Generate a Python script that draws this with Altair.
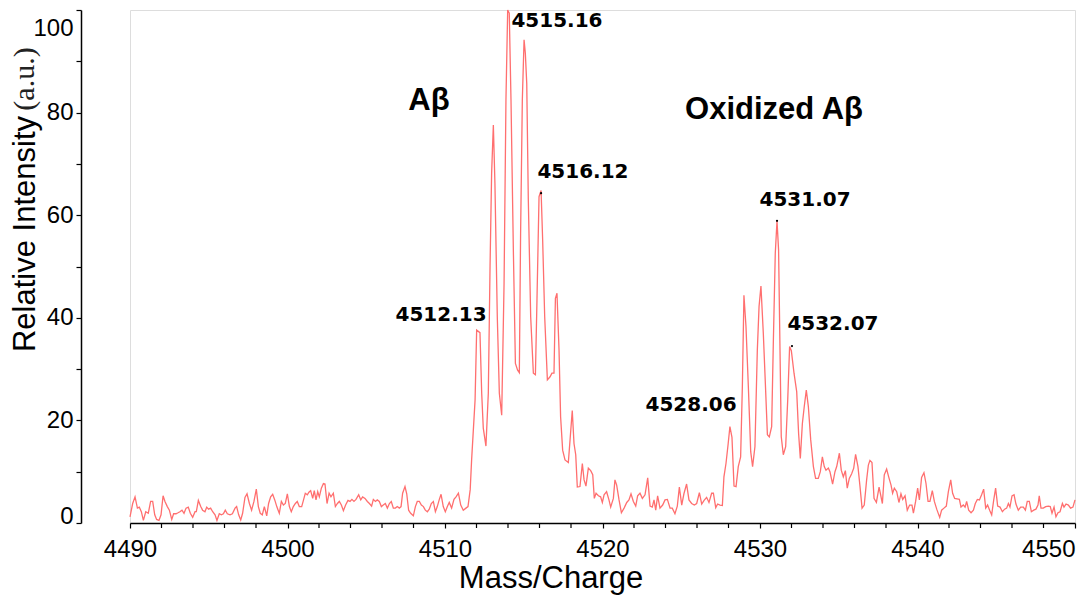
import altair as alt
import pandas as pd

# ---- spectrum (Mass/Charge, Relative Intensity) ----
mass_baseline = [4490.00,4490.17,4490.32,4490.47,4490.59,4490.72,4490.85,4491.00,4491.16,4491.31,4491.44,4491.57,4491.69,4491.84,4491.97,4492.10,4492.22,4492.37,4492.50,4492.65,4492.77,4492.92,4493.05,4493.17,4493.30,4493.43,4493.56,4493.70,4493.83,4493.98,4494.13,4494.21,4494.34,4494.49,4494.61,4494.76,4494.87,4494.99,4495.12,4495.25,4495.40,4495.52,4495.67,4495.80,4495.93,4496.05,4496.18,4496.35,4496.50,4496.67,4496.77,4496.90,4497.03,4497.15,4497.30,4497.43,4497.58,4497.72,4497.87,4498.02,4498.15,4498.27,4498.40,4498.53,4498.68,4498.80,4498.93,4499.06,4499.19,4499.33,4499.48,4499.61,4499.74,4499.86,4499.99,4500.12,4500.24,4500.37,4500.50,4500.62,4500.75,4500.90,4501.01,4501.13,4501.26,4501.36,4501.47,4501.60,4501.70,4501.81,4501.92,4502.02,4502.15,4502.28,4502.38,4502.51,4502.64,4502.76,4502.91,4503.04,4503.17,4503.29,4503.42,4503.55,4503.69,4503.84,4503.97,4504.09,4504.22,4504.35,4504.52,4504.65,4504.77,4504.92,4505.07,4505.20,4505.34,4505.45,4505.58,4505.70,4505.83,4505.96,4506.08,4506.21,4506.34,4506.47,4506.59,4506.72,4506.85,4506.97,4507.10,4507.21,4507.31,4507.46,4507.57,4507.69,4507.82,4507.99,4508.12,4508.24,4508.37,4508.50,4508.63,4508.75,4508.88,4509.00,4509.13,4509.26,4509.39,4509.51,4509.64,4509.75,4509.89,4510.02,4510.15,4510.27,4510.42,4510.57,4510.70,4510.85,4511.00,4511.16,4511.33,4511.46,4511.60]
inten_baseline = [1.2,3.8,5.1,2.9,3.1,2.2,0.5,2.2,1.9,4.2,4.2,1.6,0.7,0.5,1.6,5.3,4.2,3.2,2.5,0.7,1.8,1.8,2.0,2.2,2.5,1.9,2.9,3.1,1.9,1.1,2.2,2.2,4.4,3.2,2.5,2.2,3.1,2.7,2.9,2.2,1.6,0.5,1.8,1.6,1.8,2.5,1.8,1.6,1.8,2.9,3.2,1.6,0.6,1.9,5.0,5.7,3.8,2.5,4.2,6.6,3.2,1.9,1.6,3.2,1.4,3.8,5.1,5.6,4.5,3.1,1.9,4.2,3.5,3.8,5.7,3.2,2.2,3.2,3.8,4.2,3.2,3.2,4.4,5.8,5.5,6.0,6.3,4.8,6.3,4.5,6.1,5.1,6.8,7.7,7.6,3.8,5.8,5.1,5.8,3.2,3.8,4.2,3.5,2.4,3.5,4.4,4.2,4.6,4.2,4.6,5.5,4.5,5.1,4.8,4.2,3.8,3.3,4.6,4.2,4.5,4.2,3.2,3.5,3.8,2.9,3.8,4.2,2.9,2.9,3.2,2.9,3.2,5.8,7.1,5.7,2.5,1.9,1.4,3.2,4.2,4.2,3.5,3.2,2.5,2.2,2.7,3.8,4.2,2.2,3.2,4.6,5.6,3.2,2.2,3.2,4.0,2.9,4.6,5.1,5.8,3.5,2.5,2.9,3.2,6.5]

mass_abeta = [4511.69,4511.91,4512.01,4512.22,4512.33,4512.43,4512.60,4512.75,4512.86,4512.96,4513.07,4513.17,4513.32,4513.45,4513.60,4513.75,4513.87,4513.98,4514.08,4514.19,4514.34,4514.47,4514.61,4514.72,4514.80,4514.91,4515.02,4515.10,4515.19,4515.29,4515.44,4515.61,4515.74,4515.84,4515.97,4516.10,4516.20,4516.33,4516.50,4516.67,4516.79,4516.92,4517.01,4517.11,4517.24,4517.34]
inten_abeta = [12.3,24.0,37.6,37.1,25.3,18.5,15.0,25.3,50.0,68.2,77.6,66.2,40.2,25.3,21.0,46.7,82.5,100.0,99.4,82.5,53.2,31.1,29.8,29.3,56.5,82.5,94.2,91.6,85.7,63.0,40.2,29.2,28.9,43.5,63.6,64.8,55.2,40.2,27.9,28.5,29.2,29.2,43.8,44.8,33.7,20.7]

mass_gap = [4517.47,4517.62,4517.83,4517.94,4518.08,4518.19,4518.30,4518.40,4518.57,4518.72,4518.83,4518.95,4519.10,4519.25,4519.38,4519.48,4519.59,4519.74,4519.88,4519.99,4520.10,4520.26,4520.41,4520.52,4520.69,4520.79,4520.90,4521.05,4521.20,4521.37,4521.54,4521.68,4521.81,4521.96,4522.11,4522.23,4522.38,4522.53,4522.70,4522.87,4523.02,4523.16,4523.27,4523.38,4523.50,4523.65,4523.82,4523.97,4524.12,4524.29,4524.43,4524.60,4524.75,4524.88,4525.03,4525.17,4525.34,4525.49,4525.66,4525.83,4525.98,4526.15,4526.30,4526.45,4526.61,4526.76,4526.93,4527.04,4527.19,4527.31,4527.46,4527.61]
inten_gap = [14.2,12.3,11.8,16.2,21.9,15.5,13.3,7.0,7.1,11.6,8.4,7.2,10.7,10.2,9.4,4.8,5.8,5.3,5.1,4.0,5.5,6.1,4.5,3.1,4.8,8.4,7.4,4.5,2.0,2.9,4.0,4.5,5.7,4.2,3.3,5.3,5.8,4.8,5.5,8.8,3.3,3.1,4.5,2.5,5.3,2.9,3.5,4.5,4.6,2.9,2.9,1.8,3.3,7.0,3.5,5.7,7.6,4.5,3.8,3.5,3.8,5.9,3.7,4.4,5.0,4.0,5.8,5.8,3.0,3.7,3.5,3.4]

mass_oxid = [4527.71,4527.84,4527.97,4528.09,4528.22,4528.35,4528.48,4528.62,4528.77,4528.88,4528.98,4529.11,4529.26,4529.41,4529.53,4529.68,4529.83,4529.94,4530.06,4530.21,4530.34,4530.47,4530.59,4530.74,4530.85,4530.97,4531.08,4531.18,4531.27,4531.35,4531.48,4531.63,4531.76,4531.88,4531.99,4532.16,4532.33,4532.45,4532.56,4532.69,4532.81,4532.94,4533.07,4533.22,4533.39,4533.53,4533.70,4533.83,4533.96,4534.08,4534.19,4534.34]
inten_oxid = [9.0,11.6,15.2,18.8,16.7,7.2,7.1,11.0,12.9,26.6,44.4,38.3,26.6,13.9,11.0,14.9,33.7,42.2,46.2,37.0,27.2,17.2,16.8,18.8,35.7,52.6,58.9,53.2,33.7,16.8,13.3,14.9,24.0,34.4,33.6,29.2,25.6,17.5,12.6,19.4,22.7,25.9,22.7,16.2,11.0,8.7,8.7,10.0,12.9,11.0,10.3,10.7]

mass_tail = [4534.44,4534.61,4534.76,4534.87,4535.04,4535.16,4535.29,4535.42,4535.54,4535.67,4535.82,4535.95,4536.07,4536.22,4536.35,4536.48,4536.62,4536.77,4536.88,4536.98,4537.11,4537.24,4537.39,4537.56,4537.66,4537.77,4537.89,4538.04,4538.17,4538.32,4538.42,4538.53,4538.68,4538.82,4538.95,4539.06,4539.21,4539.35,4539.50,4539.65,4539.74,4539.88,4540.01,4540.12,4540.26,4540.41,4540.54,4540.67,4540.79,4540.94,4541.07,4541.22,4541.41,4541.53,4541.68,4541.83,4541.96,4542.11,4542.23,4542.36,4542.51,4542.66,4542.76,4542.91,4543.02,4543.12,4543.25,4543.40,4543.55,4543.67,4543.80,4543.93,4544.07,4544.20,4544.33,4544.45,4544.58,4544.71,4544.84,4544.96,4545.09,4545.24,4545.39,4545.53,4545.66,4545.77,4545.87,4546.00,4546.13,4546.25,4546.40,4546.55,4546.72,4546.85,4546.97,4547.10,4547.23,4547.38,4547.52,4547.65,4547.73,4547.84,4547.99,4548.14,4548.31,4548.43,4548.54,4548.67,4548.79,4548.92,4549.05,4549.20,4549.30,4549.43,4549.58,4549.72,4549.87,4550.00]
inten_tail = [10.0,7.6,10.0,11.0,13.6,10.3,9.0,10.2,6.8,8.7,9.6,10.7,13.4,11.0,7.1,2.9,3.5,8.4,11.3,12.2,11.8,4.8,4.0,7.0,5.5,3.8,9.4,10.5,9.0,7.4,5.8,6.8,6.1,4.0,5.7,4.6,5.3,2.5,3.5,3.5,1.9,4.2,6.8,4.5,8.9,9.8,7.7,4.2,4.2,6.3,4.2,2.7,1.1,2.5,2.9,3.3,6.1,8.4,5.8,4.8,4.7,4.6,3.1,3.5,3.1,4.2,2.5,2.0,2.5,3.8,4.6,4.5,5.5,6.6,2.9,3.5,2.5,1.6,4.5,6.8,3.3,3.1,2.2,2.7,2.9,3.8,3.1,5.3,5.5,3.7,2.5,3.1,3.1,2.5,4.2,4.2,2.2,2.5,2.7,3.5,5.3,2.9,2.9,3.2,3.3,3.2,1.9,3.1,1.2,2.0,2.2,3.8,3.1,3.7,3.5,2.9,3.1,4.5]

# ---- annotations ----
peak_labels = ["4515.16", "4516.12", "4512.13", "4531.07", "4532.07", "4528.06"]
peak_label_mass = [4517.11, 4518.76, 4509.75, 4532.86, 4534.63, 4525.62]
peak_label_inten = [96.7, 67.25, 39.4, 61.8, 37.6, 21.8]

species_labels = ["A\u03b2", "Oxidized A\u03b2"]
species_mass = [4508.98, 4530.89]
species_inten = [80.5, 78.75]

marker_mass = [4516.10, 4531.08, 4532.03]
marker_inten = [64.3, 58.9, 34.5]

x_major_ticks = list(range(4490, 4551, 10))
x_minor_ticks = [v for v in range(4490, 4551, 2) if v % 10 != 0]
y_ticks = list(range(0, 101, 5))

spec = pd.DataFrame({
    "mass": mass_baseline + mass_abeta + mass_gap + mass_oxid + mass_tail,
    "intensity": inten_baseline + inten_abeta + inten_gap + inten_oxid + inten_tail,
})
lab_df = pd.DataFrame({"label": peak_labels, "mass": peak_label_mass, "intensity": peak_label_inten})
sp_df = pd.DataFrame({"label": species_labels, "mass": species_mass, "intensity": species_inten})
mk_df = pd.DataFrame({"mass": marker_mass, "intensity": marker_inten})
minor_df = pd.DataFrame({"mass": x_minor_ticks})

xs = alt.Scale(domain=[4490, 4550], nice=False, zero=False)
ys = alt.Scale(domain=[0, 100], nice=False, zero=False)

x_axis = alt.Axis(
    values=x_major_ticks, format="d",
    title=None, grid=False, tickSize=5, tickColor="black", tickWidth=1.2,
    domainColor="black", domainWidth=1.5,
    labelFont="Liberation Sans", labelFontSize=24, labelColor="black",
    labelPadding=9, labelOverlap=False,
    labelAlign={"condition": {"test": "datum.value == 4550", "value": "right"}, "value": "center"},
)
y_axis = alt.Axis(
    values=y_ticks, format="d",
    labelExpr="datum.value % 20 == 0 ? datum.label : ''",
    title=None, grid=False, offset=49, tickSize=5, tickColor="black", tickWidth=1.2,
    domainColor="black", domainWidth=1.5,
    labelFont="Liberation Sans", labelFontSize=24, labelColor="black",
    labelPadding=3, labelOverlap=False,
    labelBaseline={"condition": [{"test": "datum.value == 100", "value": "top"},
                                 {"test": "datum.value == 0", "value": "alphabetic"}],
                   "value": "middle"},
    labelOffset={"condition": {"test": "datum.value == 100", "value": 6}, "value": 0},
)

line = alt.Chart(spec).mark_line(color="#ff6f6f", strokeWidth=1.3).encode(
    x=alt.X("mass:Q", scale=xs, axis=x_axis),
    y=alt.Y("intensity:Q", scale=ys, axis=y_axis),
)

minor_ticks = alt.Chart(minor_df).mark_rule(color="black", strokeWidth=1.2).encode(
    x=alt.X("mass:Q", scale=xs),
    y=alt.value(513), y2=alt.value(518),
)

peak_text = alt.Chart(lab_df).mark_text(
    font="DejaVu Sans", fontWeight="bold", fontSize=20, color="black",
    align="center", baseline="alphabetic",
).encode(x=alt.X("mass:Q", scale=xs), y=alt.Y("intensity:Q", scale=ys), text="label:N")

species_text = alt.Chart(sp_df).mark_text(
    font="Liberation Sans", fontWeight="bold", fontSize=31, color="black",
    align="center", baseline="alphabetic",
).encode(x=alt.X("mass:Q", scale=xs), y=alt.Y("intensity:Q", scale=ys), text="label:N")

markers = alt.Chart(mk_df).mark_point(filled=True, color="black", size=5, opacity=1).encode(
    x=alt.X("mass:Q", scale=xs), y=alt.Y("intensity:Q", scale=ys)
)

xtitle = alt.Chart(pd.DataFrame({"t": ["Mass/Charge"]})).mark_text(
    font="Liberation Sans", fontSize=31, color="black", align="center", baseline="alphabetic"
).encode(text="t:N", x=alt.value(421), y=alt.value(578))

ytitle = alt.Chart(pd.DataFrame({"t": ["Relative Intensity"]})).mark_text(
    font="Liberation Sans", fontSize=31, color="black", align="center", baseline="alphabetic", angle=270
).encode(text="t:N", x=alt.value(-95), y=alt.value(224))

yunit = alt.Chart(pd.DataFrame({"t": ["(a.u.)"]})).mark_text(
    font="Liberation Serif", fontSize=30, color="#222222", align="center", baseline="alphabetic", angle=270
).encode(text="t:N", x=alt.value(-96), y=alt.value(69))

chart = alt.layer(line, minor_ticks, markers, peak_text, species_text, xtitle, ytitle, yunit).properties(
    width=945, height=513,
    autosize=alt.AutoSizeParams(type="none"),
    padding={"left": 130, "top": 10, "right": 9, "bottom": 74},
).configure_view(stroke=None).configure(background="white")

chart.save("out.html", embed_options={"renderer": "svg", "actions": False})
